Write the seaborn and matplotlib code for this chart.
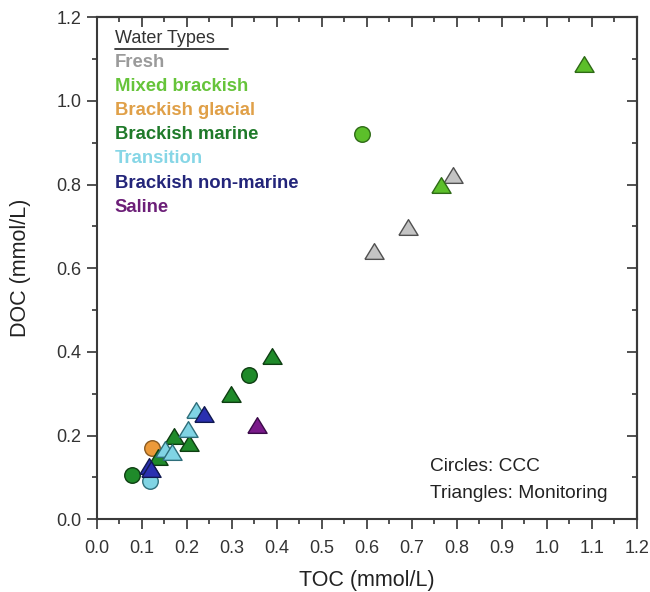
import matplotlib
matplotlib.use("Agg")
import matplotlib.pyplot as plt
from matplotlib.ticker import MultipleLocator, FormatStrFormatter
from matplotlib.lines import Line2D
import seaborn as sns
import pandas as pd

sns.set_theme(style="white")
plt.rcParams["font.family"] = ["Liberation Sans", "DejaVu Sans"]

# Water types in legend order
water_types = ["Fresh", "Mixed brackish", "Brackish glacial", "Brackish marine",
               "Transition", "Brackish non-marine", "Saline"]
text_colors = ["#9a9a9a", "#66c43a", "#e0a048", "#1f7a2a", "#86d6e6", "#23257a", "#6c1f78"]
fill_colors = ["#c4c4c4", "#5cbf2a", "#ec9a3a", "#1f8a2a", "#80d4e4", "#2a30b0", "#7a1a8a"]
edge_colors = ["#505050", "#2e6a16", "#8a5a20", "#0e3e12", "#2e6e7a", "#101850", "#3a0a48"]

# Circles: CCC samples
ccc_type = ["Mixed brackish", "Brackish glacial", "Brackish marine", "Brackish marine", "Transition"]
ccc_toc = [0.590, 0.123, 0.079, 0.338, 0.119]
ccc_doc = [0.920, 0.171, 0.105, 0.344, 0.091]

# Triangles: monitoring samples
mon_type = ["Fresh", "Fresh", "Fresh",
            "Mixed brackish", "Mixed brackish",
            "Brackish marine", "Brackish marine", "Brackish marine", "Brackish marine", "Brackish marine",
            "Transition", "Transition", "Transition", "Transition",
            "Brackish non-marine", "Brackish non-marine", "Brackish non-marine",
            "Saline"]
mon_toc = [0.615, 0.691, 0.791,
           0.765, 1.082,
           0.389, 0.298, 0.172, 0.204, 0.136,
           0.220, 0.203, 0.151, 0.166,
           0.238, 0.116, 0.120,
           0.356]
mon_doc = [0.641, 0.699, 0.823,
           0.798, 1.087,
           0.390, 0.299, 0.199, 0.181, 0.149,
           0.260, 0.215, 0.167, 0.160,
           0.251, 0.128, 0.120,
           0.225]

ccc = pd.DataFrame({"TOC": ccc_toc, "DOC": ccc_doc, "type": ccc_type, "source": "CCC"})
mon = pd.DataFrame({"TOC": mon_toc, "DOC": mon_doc, "type": mon_type, "source": "Monitoring"})

# slightly wide, flat triangle
tri = [(-1.0, -0.82), (1.0, -0.82), (0.0, 0.82), (-1.0, -0.82)]

fig = plt.figure(figsize=(6.5, 5.92), dpi=100)
ax = fig.add_axes([0.149, 0.123, 0.831, 0.848])

for df, marker, size in [(ccc, "o", 125), (mon, tri, 190)]:
    for wt, fc, ec in zip(water_types, fill_colors, edge_colors):
        sub = df[df["type"] == wt]
        if sub.empty:
            continue
        sns.scatterplot(data=sub, x="TOC", y="DOC", marker=marker, s=size,
                        color=fc, edgecolor=ec, linewidth=1.0, ax=ax, legend=False,
                        zorder=3)

ax.set_xlim(0, 1.2)
ax.set_ylim(0, 1.2)
ax.xaxis.set_major_locator(MultipleLocator(0.1))
ax.xaxis.set_minor_locator(MultipleLocator(0.05))
ax.yaxis.set_major_locator(MultipleLocator(0.2))
ax.yaxis.set_minor_locator(MultipleLocator(0.1))
ax.xaxis.set_major_formatter(FormatStrFormatter("%.1f"))
ax.yaxis.set_major_formatter(FormatStrFormatter("%.1f"))

ax.tick_params(which="both", direction="out", color="#333333", labelsize=13,
               labelcolor="#333333", width=1.2, bottom=True, left=True,
               top=False, right=False)
ax.tick_params(which="major", length=7)
ax.tick_params(which="minor", length=3.5)
ax.tick_params(axis="x", which="major", pad=8)
ax.tick_params(axis="y", which="major", pad=4)
for sp in ax.spines.values():
    sp.set_color("#3a3a3a")
    sp.set_linewidth(1.5)

# mirrored inward ticks on top and right
top = ax.secondary_xaxis("top")
top.xaxis.set_major_locator(MultipleLocator(0.1))
top.xaxis.set_minor_locator(MultipleLocator(0.05))
top.tick_params(which="both", direction="in", top=True, labeltop=False,
                color="#333333", width=1.2)
top.tick_params(which="major", length=7)
top.tick_params(which="minor", length=3.5)
top.spines["top"].set_color("#3a3a3a")
top.spines["top"].set_linewidth(1.5)
right = ax.secondary_yaxis("right")
right.yaxis.set_major_locator(MultipleLocator(0.2))
right.yaxis.set_minor_locator(MultipleLocator(0.1))
right.tick_params(which="both", direction="in", right=True, labelright=False,
                  color="#333333", width=1.2)
right.tick_params(which="major", length=7)
right.tick_params(which="minor", length=3.5)
right.spines["right"].set_color("#3a3a3a")
right.spines["right"].set_linewidth(1.5)

ax.set_xlabel("TOC (mmol/L)", fontsize=15.5, color="#222222", labelpad=9)
ax.set_ylabel("DOC (mmol/L)", fontsize=15.5, color="#222222", labelpad=18)

# Legend drawn as coloured text
ax.text(0.033, 0.958, "Water Types", transform=ax.transAxes, fontsize=13,
        color="#333333", va="center", ha="left")
ax.add_line(Line2D([0.033, 0.243], [0.937, 0.937], transform=ax.transAxes,
                   color="#333333", linewidth=1.3))
ys = [62, 86, 110, 134, 158, 183, 207]
for wt, tc, yp in zip(water_types, text_colors, ys):
    ax.text(0.033, (519 - yp) / 502, wt, transform=ax.transAxes, fontsize=13.3,
            fontweight="bold", color=tc, va="center", ha="left")

ax.text(0.617, 0.104, "Circles: CCC", transform=ax.transAxes, fontsize=13.8,
        color="#222222", va="center", ha="left")
ax.text(0.617, 0.052, "Triangles: Monitoring", transform=ax.transAxes, fontsize=13.8,
        color="#222222", va="center", ha="left")

fig.savefig("out.png", dpi=100)
